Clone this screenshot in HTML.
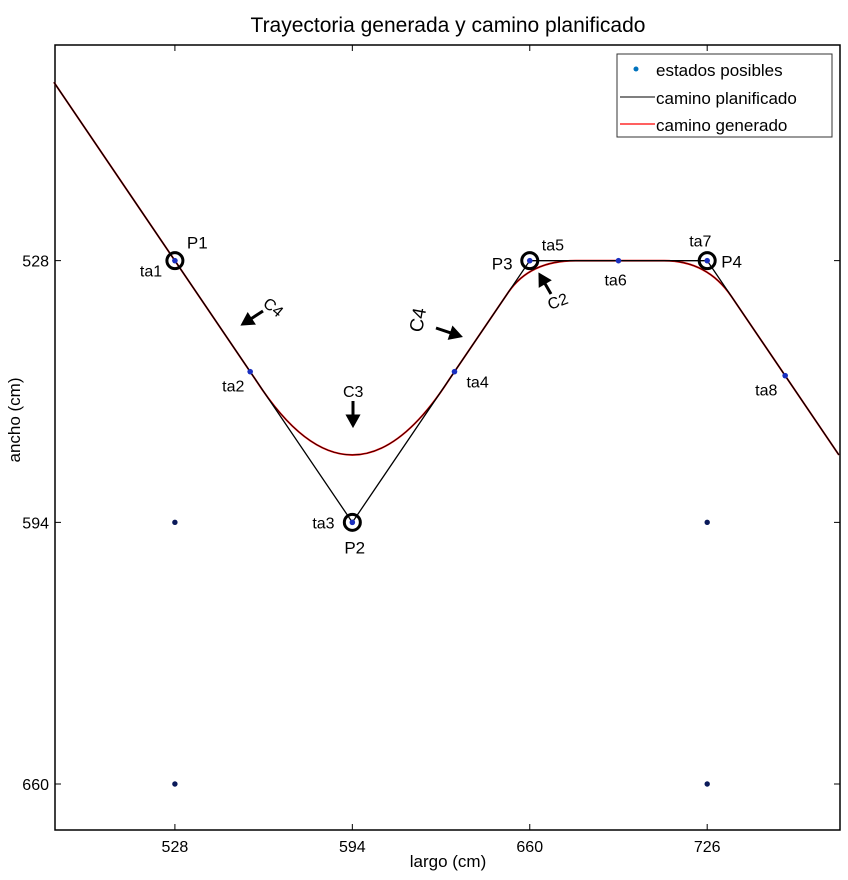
<!DOCTYPE html>
<html><head><meta charset="utf-8"><style>
body{margin:0;background:#fff;}
svg text{font-family:"Liberation Sans",sans-serif;}
</style></head><body>
<svg id="chart" width="848" height="875" xmlns="http://www.w3.org/2000/svg">
<rect width="848" height="875" fill="#fff"/>
<text x="448" y="32" font-size="21" text-anchor="middle">Trayectoria generada y camino planificado</text>
<g id="plot"></g>
<text x="448" y="867" font-size="17" text-anchor="middle">largo (cm)</text>
<text x="20" y="420" font-size="17" text-anchor="middle" transform="rotate(-90 20 420)">ancho (cm)</text>
<g>
<rect x="617" y="54" width="215" height="83" fill="#fff" stroke="#333" stroke-width="1"/>
<circle cx="636" cy="69" r="2.5" fill="#0072bd"/>
<text x="656" y="76" font-size="17">estados posibles</text>
<line x1="620" y1="97" x2="655" y2="97" stroke="#333" stroke-width="1.2"/>
<text x="656" y="104" font-size="17">camino planificado</text>
<line x1="620" y1="124" x2="655" y2="124" stroke="#f00" stroke-width="1.2"/>
<text x="656" y="131" font-size="17">camino generado</text>
</g>
</svg>
<script>
const xTicks=[528,594,660,726];
const yTicks=[528,594,660];
const plannedX=[483,528,594,660,726,775];
const plannedY=[483,528,594,528,528,577];
const stateX=[528,726,528,726];
const stateY=[594,594,660,660];
const taLabels=["ta1","ta2","ta3","ta4","ta5","ta6","ta7","ta8"];
const taX=[528,556,594,632,660,693,726,755];
const taY=[528,556,594,556,528,528,528,557];
const pLabels=["P1","P2","P3","P4"];
const pX=[528,594,660,726];
const pY=[528,594,528,528];
// generated path: waypoints and corner control points (quadratic)
const genX=[483,558,630,652,677,710,735,775];
const genY=[483,558,558,536,528,528,537,577];
const genCtrlX=[null,594,null,660,null,726,null];
const genCtrlY=[null,596,null,528,null,528,null];

const L=55,R=840,T=45,B=830;
const X0=483.4,X1=775.4,Y0=473.6,Y1=671.6;
const sx=v=>L+(v-X0)/(X1-X0)*(R-L);
const sy=v=>T+(v-Y0)/(Y1-Y0)*(B-T);
const NS="http://www.w3.org/2000/svg";
const g=document.getElementById('plot');
function mk(tag,attrs,parent){const e=document.createElementNS(NS,tag);for(const k in attrs)e.setAttribute(k,attrs[k]);(parent||g).appendChild(e);return e;}

const frame=mk('rect',{x:L,y:T,width:R-L,height:B-T,fill:'none',stroke:'#000','stroke-width':1.5});


xTicks.forEach(v=>{
  const x=sx(v);
  const t=mk('path',{d:`M${x},${B}v-6M${x},${T}v6`,stroke:'#000'});
  
  
  const l=mk('text',{x:x,y:B+22,'font-size':16,'text-anchor':'middle'});l.textContent=v;
  
  
});
yTicks.forEach(v=>{
  const y=sy(v);
  const t=mk('path',{d:`M${L},${y}h6M${R},${y}h-6`,stroke:'#000'});
  
  
  const l=mk('text',{x:L-6,y:y+6,'font-size':16,'text-anchor':'end'});l.textContent=v;
  
  
});
// generated path
let d=`M${sx(genX[0])},${sy(genY[0])}`;
for(let i=1;i<genX.length;i++){
  const c=genCtrlX[i-1];
  if(c===null) d+=`L${sx(genX[i])},${sy(genY[i])}`;
  else d+=`Q${sx(c)},${sy(genCtrlY[i-1])} ${sx(genX[i])},${sy(genY[i])}`;
}
const gen=mk('path',{d:d,fill:'none',stroke:'#e00','stroke-width':1.8});


const gen2=mk('path',{d:d,fill:'none',stroke:'#000','stroke-width':0.7});


// planned path
const pl=mk('polyline',{points:plannedX.map((x,i)=>sx(x)+','+sy(plannedY[i])).join(' '),fill:'none',stroke:'#000','stroke-width':1.3});


stateX.forEach((x,i)=>{
  const c=mk('circle',{cx:sx(x),cy:sy(stateY[i]),r:2.7,fill:'#0a1a5a'});
  
  
});
const taOff=[[-35,16],[-28,20],[-40,6],[12,16],[12,-10],[-14,25],[-18,-14],[-30,20]];
taX.forEach((x,i)=>{
  const c=mk('circle',{cx:sx(x),cy:sy(taY[i]),r:2.8,fill:'#1a2fc0'});
  
  
  const t=mk('text',{x:sx(x)+taOff[i][0],y:sy(taY[i])+taOff[i][1],'font-size':16});t.textContent=taLabels[i];
  
  
});
const pOff=[[12,-12],[-8,31],[-38,9],[14,7]];
pX.forEach((x,i)=>{
  const c=mk('circle',{cx:sx(x),cy:sy(pY[i]),r:8,fill:'none',stroke:'#000','stroke-width':3});
  
  
  const t=mk('text',{x:sx(x)+pOff[i][0],y:sy(pY[i])+pOff[i][1],'font-size':17});t.textContent=pLabels[i];
  
  
});
// annotation arrows
function arrow(x1,y1,x2,y2,name){
  const a=Math.atan2(y2-y1,x2-x1),h=9,w=5;
  const bx=x2-h*Math.cos(a),by=y2-h*Math.sin(a);
  const p=mk('path',{d:`M${x1},${y1}L${bx},${by}M${x2},${y2}L${bx-w*Math.sin(a)},${by+w*Math.cos(a)}L${bx+w*Math.sin(a)},${by-w*Math.cos(a)}Z`,stroke:'#000','stroke-width':3,fill:'#000'});
  
  
}
arrow(263,311,243,324,'c4-arrow-left');
arrow(353,401,353,425,'c3-arrow');
arrow(436,328,460,336,'c4-arrow-right');
arrow(551,294,540,275,'c2-arrow');
const ann=[["C4",262,305,40,16],["C3",343,397,0,16],["C4",422,333,-80,19],["C2",550,310,-20,16]];
ann.forEach(a=>{
  const t=mk('text',{x:a[1],y:a[2],'font-size':a[4],transform:`rotate(${a[3]} ${a[1]} ${a[2]})`});t.textContent=a[0];
  
  
});
</script>
</body></html>
